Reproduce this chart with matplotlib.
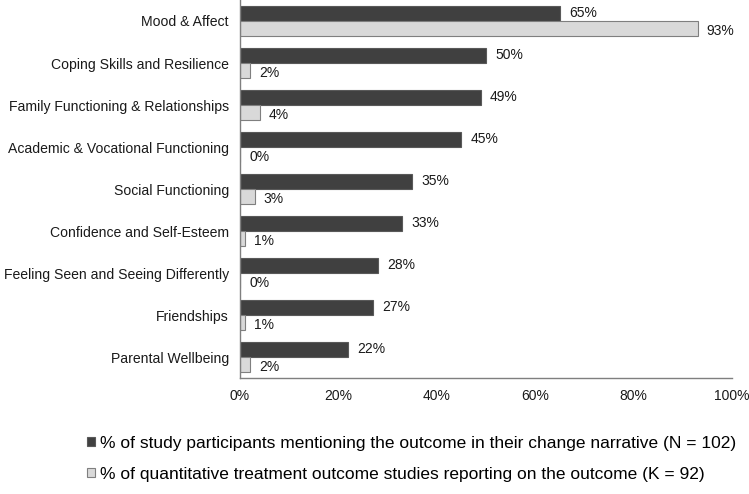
import matplotlib.pyplot as plt
import numpy as np

plt.rcParams['font.family'] = ['Liberation Sans', 'DejaVu Sans']

# outcome categories (top to bottom)
categories = ["Mood & Affect", "Coping Skills and Resilience", "Family Functioning & Relationships",
              "Academic & Vocational Functioning", "Social Functioning", "Confidence and Self-Esteem",
              "Feeling Seen and Seeing Differently", "Friendships", "Parental Wellbeing"]
participants = [65, 50, 49, 45, 35, 33, 28, 27, 22]  # % of participants (N = 102)
studies = [93, 2, 4, 0, 3, 1, 0, 1, 2]  # % of quantitative studies (K = 92)
xticks = [0, 20, 40, 60, 80, 100]

label_dark = "% of study participants mentioning the outcome in their change narrative (N = 102)"
label_light = "% of quantitative treatment outcome studies reporting on the outcome (K = 92)"

fig = plt.figure(figsize=(7.49, 4.94), dpi=100)
ax = fig.add_axes([240/749, 1-378/494, 492/749, 378/494])

y = np.arange(len(categories))
h = 0.357
b1 = ax.barh(y - h/2, participants, height=h, color="#404040", edgecolor="#595959", linewidth=0.8,
             label=label_dark)
b2 = ax.barh(y + h/2, studies, height=h, color="#d9d9d9", edgecolor="#7f7f7f", linewidth=0.8,
             label=label_light)

# value labels
for yi, v in zip(y, participants):
    ax.annotate(f"{v}%", (v, yi - h/2 - 0.02), xytext=(9, 0), textcoords="offset pixels",
                va="center", ha="left", fontsize=10, color="#1a1a1a")
for yi, v in zip(y, studies):
    ax.annotate(f"{v}%", (v, yi + h/2 + 0.05), xytext=(9, 0), textcoords="offset pixels",
                va="center", ha="left", fontsize=10, color="#1a1a1a")

ax.set_xlim(0, 100)
ax.set_ylim(len(categories) - 0.5, -0.5)
ax.set_xticks(xticks)
ax.set_xticklabels([f"{t}%" for t in xticks], fontsize=10, color="#1a1a1a")
ax.set_yticks(y)
ax.set_yticklabels(categories, fontsize=10.1, color="#1a1a1a")
ax.tick_params(axis="both", length=0)
ax.tick_params(axis="y", pad=8)
ax.tick_params(axis="x", pad=8)
for s in ["top", "right"]:
    ax.spines[s].set_visible(False)
for s in ["left", "bottom"]:
    ax.spines[s].set_color("#7f7f7f")
    ax.spines[s].set_linewidth(1.0)

fig.legend(handles=[b1, b2], loc="upper left", bbox_to_anchor=(80/749, 1-429/494), frameon=False,
           fontsize=12.5, handlelength=0.45, handleheight=0.45, handletextpad=0.3, labelspacing=0.9,
           borderaxespad=0)

fig.savefig("out.png", dpi=100)
